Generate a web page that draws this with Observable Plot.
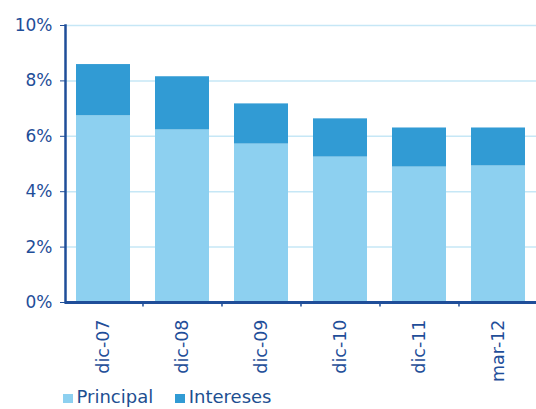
<!DOCTYPE html>
<html>
<head>
<meta charset="utf-8">
<script src="https://cdn.jsdelivr.net/npm/d3@7"></script>
<script src="https://cdn.jsdelivr.net/npm/@observablehq/plot@0.6"></script>
<style>
  html, body { margin: 0; padding: 0; background: #fff; }
  #wrap { position: relative; width: 536px; height: 409px; font-family: "DejaVu Sans", sans-serif; }
  #legend { position: absolute; left: 63px; top: 386px; display: flex; align-items: baseline; font-size: 18px; color: #1d4f91; line-height: 22px; }
  .item { display: flex; align-items: baseline; margin-right: 22px; }
  .sw { display: inline-block; width: 9.5px; height: 9.5px; margin-right: 4px; }
</style>
</head>
<body>
<div id="wrap"><div id="chart"></div><div id="legend"></div></div>
<script>
const periods = ["dic-07", "dic-08", "dic-09", "dic-10", "dic-11", "mar-12"];
const principal = [6.74, 6.23, 5.72, 5.25, 4.89, 4.93];
const intereses = [1.85, 1.92, 1.45, 1.38, 1.41, 1.37];
const series = ["Principal", "Intereses"];
const colors = ["#8dd0f0", "#319bd4"];
const yTicks = [0, 2, 4, 6, 8, 10];

const data = periods.flatMap((p, i) => [
  {period: p, serie: "Principal", value: principal[i]},
  {period: p, serie: "Intereses", value: intereses[i]}
]);

const dark = "#1f4e99";
const W = 536, mL = 65, mR = 0;
const pIn = 0.32, pOut = 0.14;
const step = (W - mL - mR) / (periods.length - pIn + 2 * pOut);

const chart = Plot.plot({
  width: W,
  height: 384,
  marginTop: 25,
  marginBottom: 82,
  marginLeft: mL,
  marginRight: mR,
  style: {fontFamily: "DejaVu Sans, sans-serif", color: dark, background: "white"},
  x: {domain: periods, paddingInner: pIn, paddingOuter: pOut, label: null},
  y: {domain: [0, 10], label: null},
  color: {domain: series, range: colors},
  marks: [
    Plot.gridY(yTicks, {stroke: "#c6e7f6", strokeOpacity: 1, strokeWidth: 1.5}),
    Plot.barY(data, {x: "period", y: "value", fill: "serie"}),
    Plot.ruleX(periods.slice(1), {x: d => d, dx: -step / 2, y1: 0, y2: -0.16, stroke: dark, strokeWidth: 1.5}),
    Plot.ruleY([0], {stroke: dark, strokeWidth: 3}),
    Plot.frame({anchor: "left", stroke: dark, strokeWidth: 2.5}),
    Plot.axisY(yTicks, {tickSize: 5, tickPadding: 8, tickFormat: d => d + "%", fontSize: 17, stroke: dark, fill: dark, label: null}),
    Plot.axisX({tickSize: 0, tickRotate: -90, tickPadding: 17, fontSize: 17.5, fill: dark, label: null})
  ]
});
document.getElementById("chart").appendChild(chart);

const legend = document.getElementById("legend");
series.forEach((s, i) => {
  const item = document.createElement("div");
  item.className = "item";
  const sw = document.createElement("span");
  sw.className = "sw";
  sw.style.background = colors[i];
  const t = document.createElement("span");
  t.textContent = s;
  item.appendChild(sw);
  item.appendChild(t);
  legend.appendChild(item);
});
</script>
</body>
</html>
